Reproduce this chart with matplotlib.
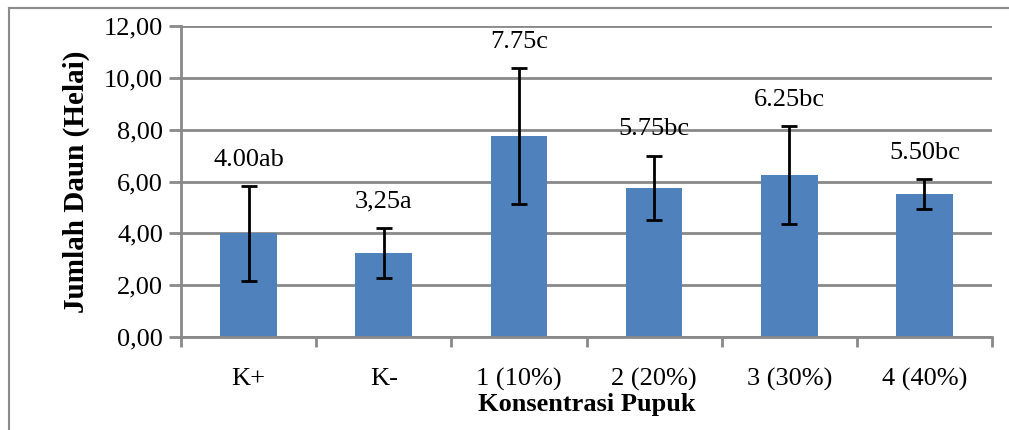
import matplotlib
matplotlib.use("Agg")
import matplotlib.pyplot as plt
from matplotlib.lines import Line2D
import numpy as np

categories = ["K+", "K-", "1 (10%)", "2 (20%)", "3 (30%)", "4 (40%)"]
values = [4.00, 3.25, 7.75, 5.75, 6.25, 5.50]
errors = [1.83, 0.96, 2.62, 1.25, 1.89, 0.58]
labels = ["4.00ab", "3,25a", "7.75c", "5.75bc", "6.25bc", "5.50bc"]
yticks = [0, 2, 4, 6, 8, 10, 12]

plt.rcParams['font.family'] = ['Liberation Serif', 'DejaVu Serif']

fig = plt.figure(figsize=(10.09, 4.30), dpi=100)
ax = fig.add_axes([181/1009, 1-337/430, (992-181)/1009, (337-26)/430])

grid_c = '#898989'
x = np.arange(len(categories))
ax.set_axisbelow(True)
ax.bar(x, values, width=0.42, color='#4F81BD', zorder=2)
ax.errorbar(x, values, yerr=errors, fmt='none', ecolor='black', elinewidth=2,
            capsize=6, capthick=2, zorder=3)
for xi, v, e, lab in zip(x, values, errors, labels):
    ax.annotate(lab, (xi, v + e), xytext=(0, 11), textcoords='offset points',
                ha='center', va='bottom', fontsize=19)

ax.set_xlim(-0.5, len(categories) - 0.5)
ax.set_ylim(0, 12)
ax.set_yticks(yticks)
ax.set_yticklabels([f"{t:.2f}".replace('.', ',') for t in yticks], fontsize=19)
ax.set_xticks(x)
ax.set_xticklabels(categories, fontsize=19)
ax.set_xticks(np.arange(-0.5, len(categories), 1.0), minor=True)
ax.tick_params(axis='x', which='major', length=0, pad=22)
ax.tick_params(axis='x', which='minor', length=7, width=2, color=grid_c)
ax.tick_params(axis='y', length=9, width=2, color=grid_c, pad=4)
ax.yaxis.grid(True, color=grid_c, linewidth=2, zorder=0)
for s in ['top', 'right']:
    ax.spines[s].set_visible(False)
for s in ['left', 'bottom']:
    ax.spines[s].set_color(grid_c)
    ax.spines[s].set_linewidth(2)

ax.set_ylabel("Jumlah Daun (Helai)", fontsize=21, fontweight='bold', labelpad=10)
ax.set_xlabel("Konsentrasi Pupuk", fontsize=19, fontweight='bold', labelpad=2)

# outer frame
fig.add_artist(Line2D([9/1009, 9/1009], [0, 1-8/430], transform=fig.transFigure,
                      color='#8a8a8a', linewidth=1.5))
fig.add_artist(Line2D([9/1009, 1], [1-8/430, 1-8/430], transform=fig.transFigure,
                      color='#8a8a8a', linewidth=1.5))

fig.savefig("out.png", dpi=100)
